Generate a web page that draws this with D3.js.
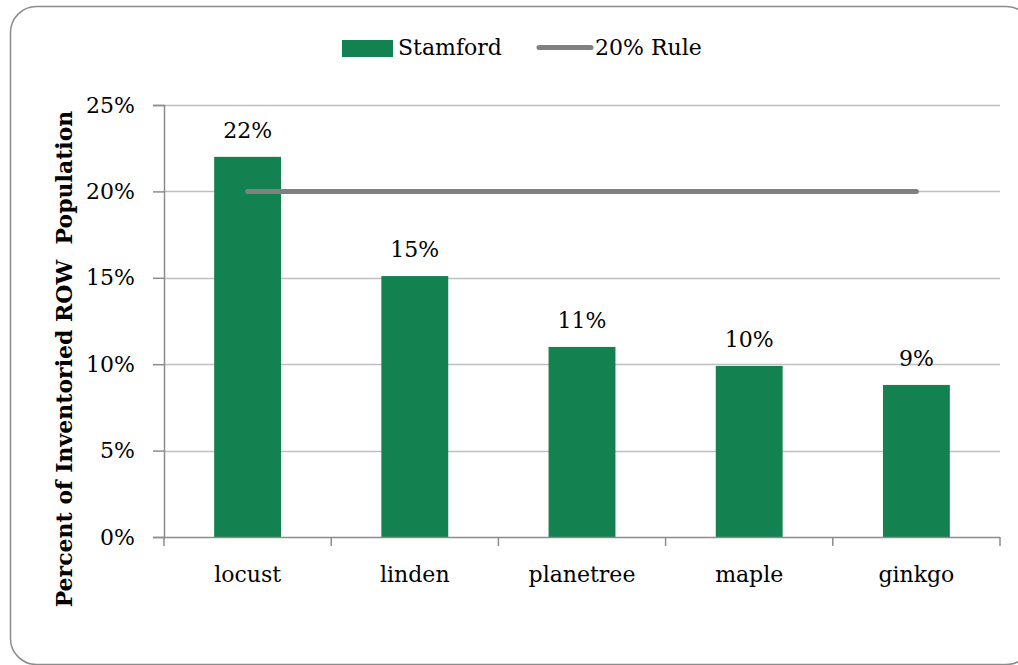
<!DOCTYPE html>
<html>
<head>
<meta charset="utf-8">
<script src="https://cdn.jsdelivr.net/npm/d3@7/dist/d3.min.js"></script>
<style>
  html, body { margin: 0; padding: 0; background: #fff; }
  svg { display: block; }
  text { font-family: "DejaVu Serif", serif; fill: #000; }
</style>
</head>
<body>
<svg id="chart" width="1018" height="665"></svg>
<script>
// Share of inventoried right-of-way trees by genus
const categories = ["locust", "linden", "planetree", "maple", "ginkgo"];
const stamford = [22.0, 15.1, 11.0, 9.9, 8.8];
const ruleValue = 20;
const yTicks = [0, 5, 10, 15, 20, 25];
const seriesNames = ["Stamford", "20% Rule"];

const svg = d3.select("#chart");
const W = 1018, H = 665;
const margin = { left: 164, right: 18, top: 105, bottom: 128 };
const plotW = W - margin.left - margin.right;
const plotH = H - margin.top - margin.bottom;

const green = "#138150";
const grey = "#808080";
const fs = 22;

// Outer frame
svg.append("rect")
  .attr("x", 10.5).attr("y", 6.5)
  .attr("width", 1022).attr("height", 658)
  .attr("rx", 26).attr("ry", 26)
  .attr("fill", "#fff")
  .attr("stroke", "#8c8c8c").attr("stroke-width", 1.5);

const x = d3.scaleBand().domain(categories).range([0, plotW]).paddingInner(0.6).paddingOuter(0.3);
const xBand = d3.scaleBand().domain(categories).range([0, plotW]);
const y = d3.scaleLinear().domain([0, 25]).range([plotH, 0]);

const g = svg.append("g").attr("transform", `translate(${margin.left},${margin.top})`);

// Horizontal gridlines
g.append("g")
  .selectAll("line")
  .data(yTicks.filter(t => t > 0))
  .join("line")
  .attr("x1", 0).attr("x2", plotW)
  .attr("y1", d => Math.round(y(d)) + 0.5).attr("y2", d => Math.round(y(d)) + 0.5)
  .attr("stroke", "#bfbfbf").attr("stroke-width", 1.5);

// Y axis
const yAxis = g.append("g")
  .call(d3.axisLeft(y).tickValues(yTicks).tickFormat(d => d + "%").tickSize(11).tickPadding(18));
yAxis.select(".domain").attr("stroke", "#8c8c8c").attr("stroke-width", 1.5);
yAxis.selectAll(".tick line").attr("stroke", "#8c8c8c").attr("stroke-width", 1.5);
yAxis.selectAll(".tick text").attr("font-size", fs).attr("font-family", null).attr("fill", "#000");

// Bars
g.append("g")
  .selectAll("rect")
  .data(categories)
  .join("rect")
  .attr("x", (d) => x(d))
  .attr("width", x.bandwidth())
  .attr("y", (d, i) => y(stamford[i]))
  .attr("height", (d, i) => plotH - y(stamford[i]))
  .attr("fill", green);

// Value labels
g.append("g")
  .selectAll("text")
  .data(categories)
  .join("text")
  .attr("x", d => x(d) + x.bandwidth() / 2)
  .attr("y", (d, i) => y(stamford[i]) - 19)
  .attr("text-anchor", "middle")
  .attr("font-size", fs)
  .text((d, i) => Math.round(stamford[i]) + "%");

// X axis with ticks at category boundaries
const xAxisG = g.append("g").attr("transform", `translate(0,${plotH})`);
xAxisG.append("line")
  .attr("x1", 0).attr("x2", plotW).attr("y1", 0.5).attr("y2", 0.5)
  .attr("stroke", "#8c8c8c").attr("stroke-width", 1.5);
const bounds = categories.map(c => xBand(c)).concat([plotW]);
xAxisG.selectAll("line.tick")
  .data(bounds)
  .join("line")
  .attr("class", "tick")
  .attr("x1", d => d).attr("x2", d => d)
  .attr("y1", 0).attr("y2", 9)
  .attr("stroke", "#8c8c8c").attr("stroke-width", 1.5);
xAxisG.selectAll("text")
  .data(categories)
  .join("text")
  .attr("x", d => xBand(d) + xBand.bandwidth() / 2)
  .attr("y", 45)
  .attr("text-anchor", "middle")
  .attr("font-size", fs)
  .text(d => d);

// 20% rule line across category centres
const line = d3.line()
  .x(d => x(d) + x.bandwidth() / 2)
  .y(() => y(ruleValue));
g.append("path")
  .datum(categories)
  .attr("d", line)
  .attr("fill", "none")
  .attr("stroke", grey)
  .attr("stroke-width", 5)
  .attr("stroke-linecap", "round");

// Y axis title
svg.append("text")
  .attr("transform", `translate(72,${359}) rotate(-90)`)
  .attr("text-anchor", "middle")
  .attr("font-size", 22)
  .attr("font-weight", "bold")
  .style("white-space", "pre")
  .text("Percent of Inventoried ROW  Population");

// Legend
const legend = svg.append("g");
legend.append("rect")
  .attr("x", 342).attr("y", 40).attr("width", 51).attr("height", 17)
  .attr("fill", green);
legend.append("text")
  .attr("x", 398).attr("y", 55)
  .attr("font-size", fs)
  .text(seriesNames[0]);
legend.append("line")
  .attr("x1", 539).attr("x2", 591).attr("y1", 47.5).attr("y2", 47.5)
  .attr("stroke", grey).attr("stroke-width", 5).attr("stroke-linecap", "round");
legend.append("text")
  .attr("x", 595).attr("y", 55)
  .attr("font-size", fs)
  .text(seriesNames[1]);
</script>
</body>
</html>
